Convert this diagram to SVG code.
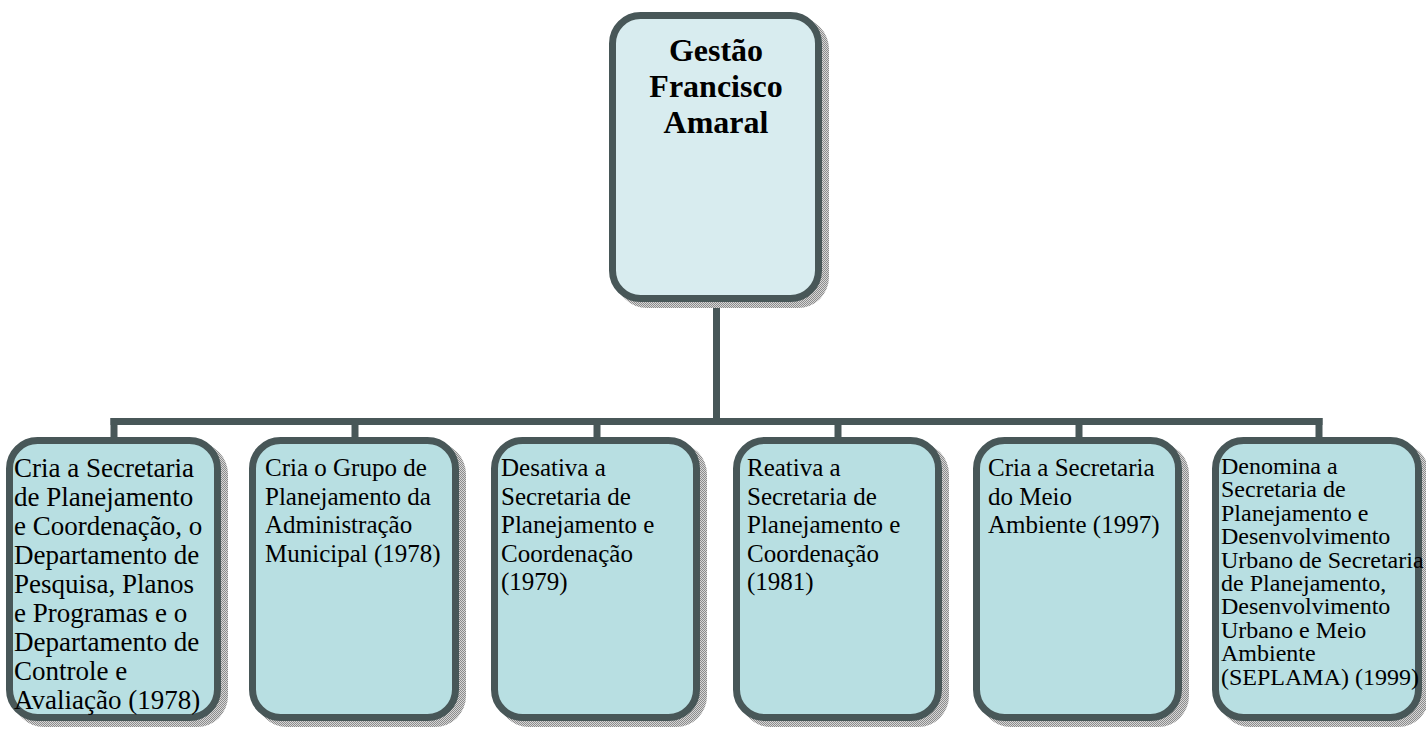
<svg xmlns="http://www.w3.org/2000/svg" width="1426" height="729" viewBox="0 0 1426 729">
  <defs>
    <!-- fine dithered grey used for drop shadows -->
    <pattern id="dither" width="2" height="2" patternUnits="userSpaceOnUse">
      <rect width="2" height="2" fill="#d6d6d6"/>
      <rect width="1" height="1" fill="#8c8c8c"/>
      <rect x="1" y="1" width="1" height="1" fill="#8c8c8c"/>
    </pattern>
    <style>
      .shadow { fill: url(#dither); }
      .box { stroke: #485758; stroke-width: 7; }
      .root { fill: #d8ecef; }
      .leaf { fill: #b8dfe2; }
      .link { stroke: #485758; stroke-width: 7; fill: none; stroke-linecap: square; }
      .title { font-family: "Liberation Serif", "Times New Roman", serif; font-weight: bold; font-size: 32px; fill: #000; text-anchor: middle; }
      .big { font-family: "Liberation Serif", "Times New Roman", serif; font-size: 27px; fill: #000; }
      .txt { font-family: "Liberation Serif", "Times New Roman", serif; font-size: 25px; fill: #000; }
      .small { font-family: "Liberation Serif", "Times New Roman", serif; font-size: 24px; fill: #000; }
    </style>
  </defs>

  <rect width="1426" height="729" fill="#ffffff"/>

  <!-- connectors -->
  <g id="connectors">
    <line class="link" x1="716.5" y1="302" x2="716.5" y2="421.5"/>
    <line class="link" x1="114" y1="421.5" x2="1319" y2="421.5"/>
    <line class="link" x1="114" y1="421.5" x2="114" y2="437"/>
    <line class="link" x1="355" y1="421.5" x2="355" y2="437"/>
    <line class="link" x1="597" y1="421.5" x2="597" y2="437"/>
    <line class="link" x1="838" y1="421.5" x2="838" y2="437"/>
    <line class="link" x1="1079" y1="421.5" x2="1079" y2="437"/>
    <line class="link" x1="1319" y1="421.5" x2="1319" y2="437"/>
  </g>

  <!-- root -->
  <g id="gestao">
    <rect class="shadow" x="616" y="18" width="213" height="290" rx="31"/>
    <rect class="box root" x="612.5" y="15.5" width="206" height="283" rx="28"/>
    <text class="title" x="716" y="61">Gestão</text>
    <text class="title" x="716" y="97">Francisco</text>
    <text class="title" x="716" y="133">Amaral</text>
  </g>

  <g id="n1">
    <rect class="shadow" x="13" y="443" width="215" height="284" rx="31"/>
    <rect class="box leaf" x="9.5" y="440.5" width="208" height="277" rx="28"/>
    <text class="big">
      <tspan x="14" y="477">Cria a Secretaria</tspan>
      <tspan x="14" y="506">de Planejamento</tspan>
      <tspan x="14" y="535">e Coordenação, o</tspan>
      <tspan x="14" y="564">Departamento de</tspan>
      <tspan x="14" y="593">Pesquisa, Planos</tspan>
      <tspan x="14" y="622">e Programas e o</tspan>
      <tspan x="14" y="651">Departamento de</tspan>
      <tspan x="14" y="680">Controle e</tspan>
      <tspan x="14" y="709">Avaliação (1978)</tspan>
    </text>
  </g>

  <g id="n2">
    <rect class="shadow" x="256" y="443" width="210" height="284" rx="31"/>
    <rect class="box leaf" x="252.5" y="440.5" width="203" height="277" rx="28"/>
    <text class="txt">
      <tspan x="265" y="476">Cria o Grupo de</tspan>
      <tspan x="265" y="504.5">Planejamento da</tspan>
      <tspan x="265" y="533">Administração</tspan>
      <tspan x="265" y="561.5">Municipal (1978)</tspan>
    </text>
  </g>

  <g id="n3">
    <rect class="shadow" x="498" y="443" width="209" height="284" rx="31"/>
    <rect class="box leaf" x="494.5" y="440.5" width="202" height="277" rx="28"/>
    <text class="txt">
      <tspan x="501" y="476">Desativa a</tspan>
      <tspan x="501" y="504.5">Secretaria de</tspan>
      <tspan x="501" y="533">Planejamento e</tspan>
      <tspan x="501" y="561.5">Coordenação</tspan>
      <tspan x="501" y="590">(1979)</tspan>
    </text>
  </g>

  <g id="n4">
    <rect class="shadow" x="740" y="443" width="209" height="284" rx="31"/>
    <rect class="box leaf" x="736.5" y="440.5" width="202" height="277" rx="28"/>
    <text class="txt">
      <tspan x="747" y="476">Reativa a</tspan>
      <tspan x="747" y="504.5">Secretaria de</tspan>
      <tspan x="747" y="533">Planejamento e</tspan>
      <tspan x="747" y="561.5">Coordenação</tspan>
      <tspan x="747" y="590">(1981)</tspan>
    </text>
  </g>

  <g id="n5">
    <rect class="shadow" x="980" y="443" width="209" height="284" rx="31"/>
    <rect class="box leaf" x="976.5" y="440.5" width="202" height="277" rx="28"/>
    <text class="txt">
      <tspan x="988" y="476">Cria a Secretaria</tspan>
      <tspan x="988" y="504.5">do Meio</tspan>
      <tspan x="988" y="533">Ambiente (1997)</tspan>
    </text>
  </g>

  <g id="n6">
    <rect class="shadow" x="1219" y="443" width="210" height="284" rx="31"/>
    <rect class="box leaf" x="1215.5" y="440.5" width="203" height="277" rx="28"/>
    <text class="small">
      <tspan x="1221" y="474">Denomina a</tspan>
      <tspan x="1221" y="497.4">Secretaria de</tspan>
      <tspan x="1221" y="520.8">Planejamento e</tspan>
      <tspan x="1221" y="544.2">Desenvolvimento</tspan>
      <tspan x="1221" y="567.6">Urbano de Secretaria</tspan>
      <tspan x="1221" y="591">de Planejamento,</tspan>
      <tspan x="1221" y="614.4">Desenvolvimento</tspan>
      <tspan x="1221" y="637.8">Urbano e Meio</tspan>
      <tspan x="1221" y="661.2">Ambiente</tspan>
      <tspan x="1221" y="684.6">(SEPLAMA) (1999)</tspan>
    </text>
  </g>
</svg>
